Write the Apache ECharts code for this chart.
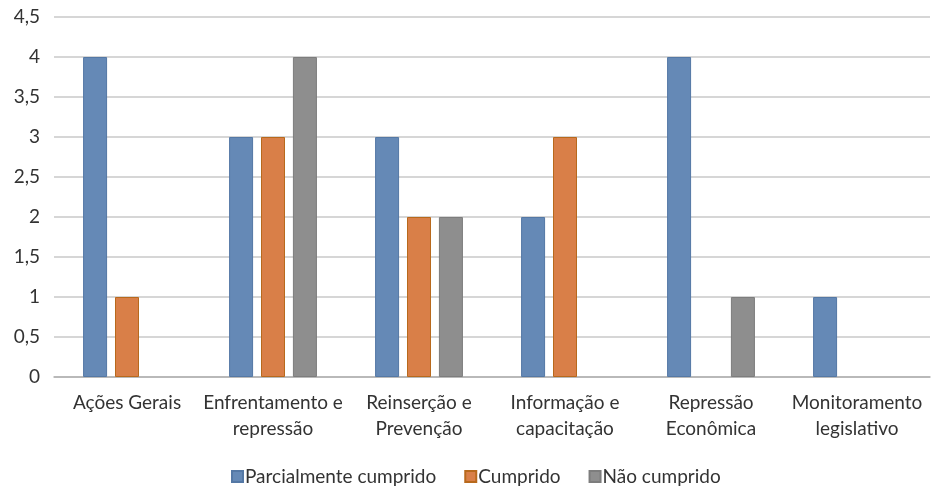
<!DOCTYPE html>
<html><head><meta charset="utf-8">
<script src="https://cdn.jsdelivr.net/npm/echarts@6/dist/echarts.min.js"></script>
<style>html,body{margin:0;padding:0;background:#fff}#c{width:931px;height:488px}</style>
</head><body><div id="c"></div>
<script>
const categories = ["Ações Gerais", "Enfrentamento e\nrepressão", "Reinserção e\nPrevenção", "Informação e\ncapacitação", "Repressão\nEconômica", "Monitoramento\nlegislativo"];
const parcialmente = [4, 3, 3, 2, 4, 1];
const cumprido = [1, 3, 2, 3, null, null];
const naoCumprido = [null, 4, 2, null, 1, null];
const font = 'Lato';
const chart = echarts.init(document.getElementById('c'));
const mk = (name, data, color, border) => ({
  name, type: 'bar', data, barWidth: 24, barGap: '33%',
  itemStyle: { color, borderColor: border, borderWidth: 1 }
});
chart.setOption({
  animation: false,
  textStyle: { fontFamily: font },
  grid: { left: 54, right: 1, top: 17, bottom: 111 },
  legend: {
    top: 462, left: 226, itemWidth: 11, itemHeight: 11, itemGap: 28, icon: 'rect',
    textStyle: { fontFamily: font, fontSize: 19, color: '#333', padding: [0,0,0,-3] }
  },
  xAxis: {
    type: 'category', data: categories,
    axisLine: { lineStyle: { color: '#b0b0b0', width: 1.5 } },
    axisTick: { show: false },
    axisLabel: { fontFamily: font, fontSize: 19, color: '#333', margin: 13, lineHeight: 26, interval: 0 }
  },
  yAxis: {
    type: 'value', min: 0, max: 4.5, interval: 0.5,
    axisLine: { show: false }, axisTick: { show: false },
    splitLine: { lineStyle: { color: '#c8c8c8', width: 1.5 } },
    axisLabel: { fontFamily: font, fontSize: 19, color: '#333', margin: 14,
      formatter: v => String(v).replace('.', ',') }
  },
  series: [
    mk('Parcialmente cumprido', parcialmente, '#6589b6', '#5478a5'),
    mk('Cumprido', cumprido, '#d97f48', '#b8691c'),
    mk('Não cumprido', naoCumprido, '#8e8e8e', '#7d7d7d')
  ]
});
</script></body></html>
